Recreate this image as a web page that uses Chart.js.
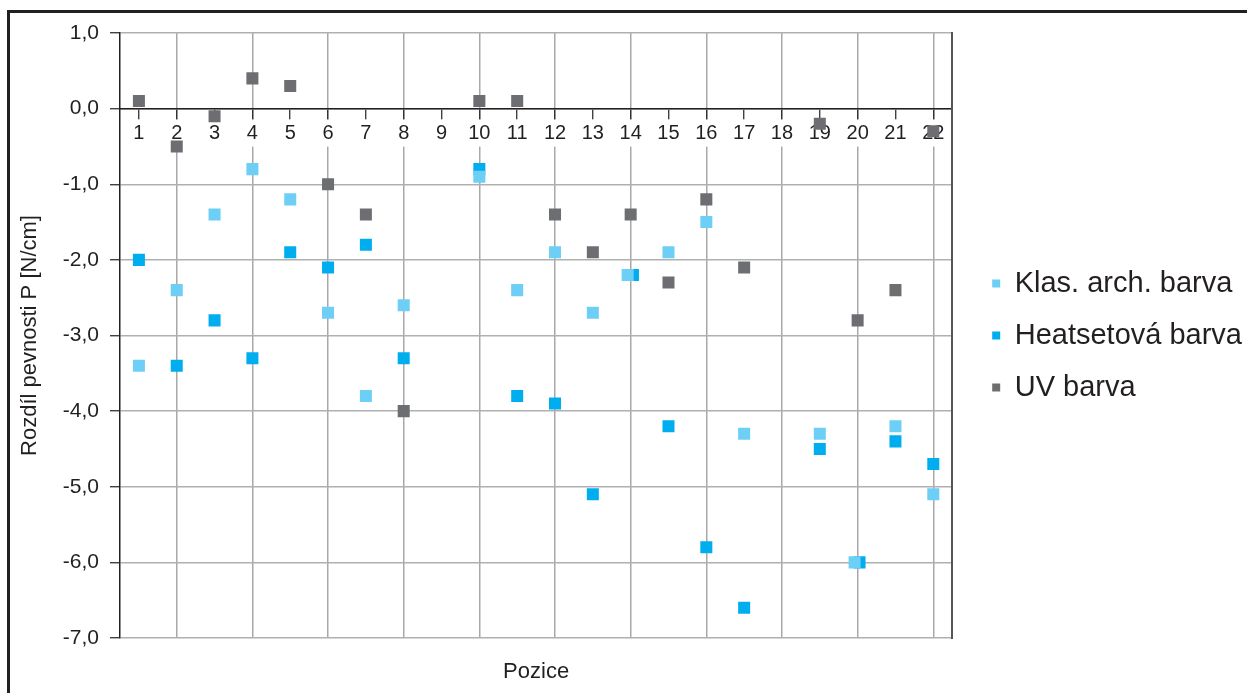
<!DOCTYPE html>
<html lang="cs">
<head>
    <meta charset="UTF-8">
    <title>Rozdíl pevnosti P</title>
    <script src="https://cdn.jsdelivr.net/npm/chart.js"></script>
    <style>
        html, body { margin: 0; padding: 0; background: #fff; overflow: hidden; }
        #ramecek {
            position: absolute; left: 7px; top: 10px; width: 2000px; height: 2000px;
            border-left: 3px solid #231f20; border-top: 3px solid #231f20;
            pointer-events: none;
        }
        #graf { position: absolute; left: 0; top: 0; }
    </style>
</head>
<body>
    <div id="ramecek"></div>
    <canvas id="graf" width="1252" height="693"></canvas>

    <script>
        // pozice vzorku (osa x)
        const pozice = [1, 2, 3, 4, 5, 6, 7, 8, 9, 10, 11, 12, 13, 14, 15, 16, 17, 18, 19, 20, 21, 22];
        // u pozic 14 a 20 jsou znacky v originale mirne posunute
        const poziceKlas = [1, 2, 3, 4, 5, 6, 7, 8, 9, 10, 11, 12, 13, 13.92, 15, 16, 17, 18, 19, 19.92, 21, 22];
        const poziceHeat = [1, 2, 3, 4, 5, 6, 7, 8, 9, 10, 11, 12, 13, 14.06, 15, 16, 17, 18, 19, 20.05, 21, 22];

        // rozdil pevnosti P [N/cm]
        const klasArch = [-3.4, -2.4, -1.4, -0.8, -1.2, -2.7, -3.8, -2.6, null, -0.9, -2.4, -1.9,
                          -2.7, -2.2, -1.9, -1.5, -4.3, null, -4.3, -6.0, -4.2, -5.1];
        const heatset  = [-2.0, -3.4, -2.8, -3.3, -1.9, -2.1, -1.8, -3.3, null, -0.8, -3.8, -3.9,
                          -5.1, -2.2, -4.2, -5.8, -6.6, null, -4.5, -6.0, -4.4, -4.7];
        const uvBarva  = [0.1, -0.5, -0.1, 0.4, 0.3, -1.0, -1.4, -4.0, null, 0.1, 0.1, -1.4,
                          -1.9, -1.4, -2.3, -1.2, -2.1, null, -0.2, -2.8, -2.4, -0.3];

        const textBarva = '#231f20';
        const pismo = "'Liberation Sans', Arial, sans-serif";

        function body(xs, ys) {
            const out = [];
            ys.forEach((y, i) => { if (y !== null) out.push({ x: xs[i], y: y }); });
            return out;
        }

        function serie(label, xs, ys, barva) {
            return {
                label: label,
                data: body(xs, ys),
                backgroundColor: barva,
                borderColor: barva,
                borderWidth: 0,
                pointStyle: 'rect',
                pointRadius: 8.5,
                pointHoverRadius: 8.5
            };
        }

        const ctx = document.getElementById('graf').getContext('2d');
        const graf = new Chart(ctx, {
            type: 'scatter',
            data: {
                datasets: [
                    serie('Klas. arch. barva', poziceKlas, klasArch, '#6dcff6'),
                    serie('Heatsetová barva', poziceHeat, heatset, '#00aeef'),
                    serie('UV barva', pozice, uvBarva, '#6d6e71')
                ]
            },
            options: {
                responsive: false,
                animation: false,
                devicePixelRatio: 1,
                layout: { padding: { left: 12, top: 33, right: 0, bottom: 0 } },
                plugins: {
                    tooltip: { enabled: false },
                    legend: {
                        position: 'right',
                        align: 'center',
                        fullSize: false,
                        maxWidth: 320,
                        labels: {
                            usePointStyle: true,
                            boxWidth: 8,
                            boxHeight: 8,
                            padding: 23,
                            color: textBarva,
                            font: { family: pismo, size: 29 }
                        }
                    }
                },
                scales: {
                    x: {
                        type: 'linear',
                        position: { y: 0 },
                        min: 0.5,
                        max: 22.5,
                        afterBuildTicks: s => { s.ticks = pozice.map(v => ({ value: v })); },
                        ticks: {
                            autoSkip: false,
                            maxRotation: 0,
                            padding: 3,
                            color: textBarva,
                            font: { family: pismo, size: 20 },
                            showLabelBackdrop: true,
                            backdropColor: '#ffffff',
                            backdropPadding: { top: 2, bottom: 1, left: 1, right: 1 },
                            callback: v => String(v)
                        },
                        grid: {
                            color: c => (c.tick && c.tick.value % 2 === 0) ? '#a8a8a8' : 'rgba(0,0,0,0)',
                            lineWidth: 1.5,
                            tickColor: textBarva,
                            tickLength: 10,
                            tickWidth: 1.2
                        },
                        border: { color: textBarva, width: 1.5 }
                    },
                    x2: {
                        type: 'linear',
                        position: 'bottom',
                        min: 0.5,
                        max: 22.5,
                        grid: { display: false },
                        ticks: { display: false },
                        border: { display: false },
                        title: {
                            display: true,
                            text: 'Pozice',
                            color: textBarva,
                            font: { family: pismo, size: 22 },
                            padding: { top: 4, bottom: 8 }
                        },
                        afterFit: s => { s.height = 55; }
                    },
                    y: {
                        min: -7,
                        max: 1,
                        ticks: {
                            stepSize: 1,
                            padding: 11,
                            color: textBarva,
                            font: { family: pismo, size: 21 },
                            callback: v => v.toFixed(1).replace('.', ',')
                        },
                        grid: {
                            color: '#b0b0b0',
                            lineWidth: 1.5,
                            tickColor: textBarva,
                            tickLength: 10,
                            tickWidth: 1.2
                        },
                        border: { color: textBarva, width: 1.5 },
                        title: {
                            display: true,
                            text: 'Rozdíl pevnosti P [N/cm]',
                            color: textBarva,
                            font: { family: pismo, size: 22 },
                            padding: { top: 5, bottom: 0 }
                        },
                        afterFit: s => { s.width = 108; }
                    },
                    y2: {
                        position: 'right',
                        min: -7,
                        max: 1,
                        grid: { display: false },
                        ticks: { display: false },
                        border: { color: '#555555', width: 2 },
                        afterFit: s => { s.width = 17; }
                    }
                }
            }
        });
    </script>
</body>
</html>
